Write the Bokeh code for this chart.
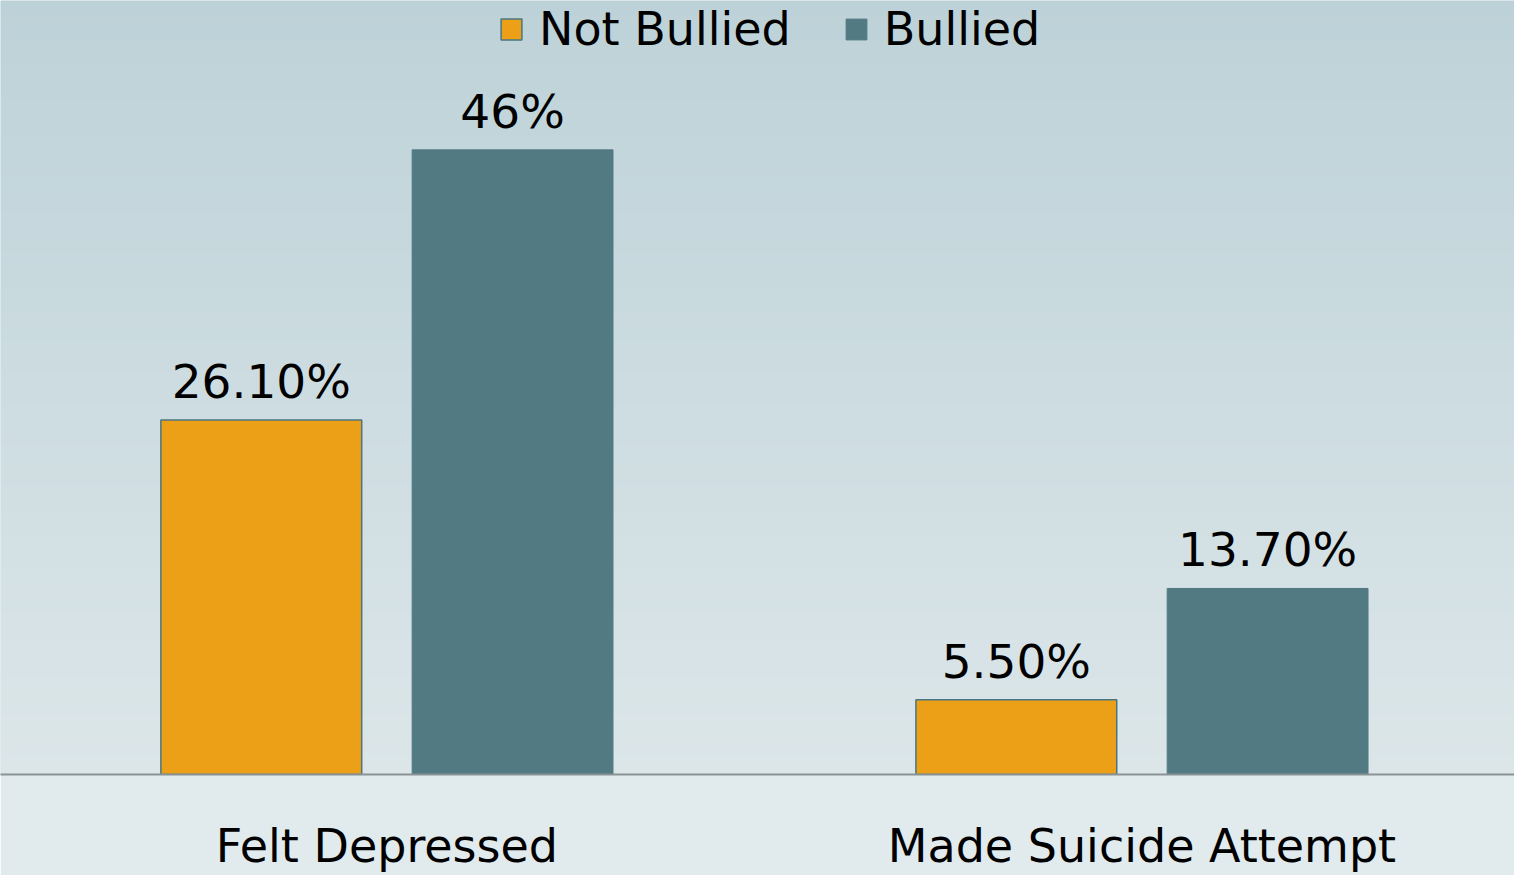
import numpy as np
from bokeh.plotting import figure
from bokeh.models import ColumnDataSource, Range1d, FixedTicker, LabelSet, Legend, LegendItem
from bokeh.core.properties import value
from bokeh.transform import dodge
from bokeh.embed import file_html
from bokeh.resources import INLINE

# ---- data ----
categories = ["Felt Depressed", "Made Suicide Attempt"]
series = ["Not Bullied", "Bullied"]
not_bullied = [26.1, 5.5]
bullied = [46.0, 13.7]
not_bullied_labels = ["26.10%", "5.50%"]
bullied_labels = ["46%", "13.70%"]

# ---- style ----
ORANGE = "#eba018"
TEAL = "#527a83"
EDGE = "#4a7683"
FONT = "DejaVu Sans"

idx = list(range(len(categories)))
src_nb = ColumnDataSource(dict(x=idx, y=not_bullied, t=not_bullied_labels))
src_b = ColumnDataSource(dict(x=idx, y=bullied, t=bullied_labels))

x0, x1 = -0.5118, 1.4934
y0, y1 = 0.0, 57.0

p = figure(width=1514, height=875, output_backend="svg", toolbar_location=None,
           x_range=Range1d(x0, x1), y_range=Range1d(y0, y1),
           min_border_left=0, min_border_right=0, min_border_top=0, min_border_bottom=0)

# background gradient inside the frame
N = 256
top = np.array([0xbd, 0xd2, 0xd8], dtype=float)
bot = np.array([0xdc, 0xe6, 0xe9], dtype=float)
img = np.zeros((N, 1), dtype=np.uint32)
view = img.view(dtype=np.uint8).reshape((N, 1, 4))
for i in range(N):
    f = i / (N - 1)
    c = bot * (1 - f) + top * f
    view[i, 0, 0:3] = np.round(c).astype(np.uint8)
    view[i, 0, 3] = 255
p.image_rgba(image=[img], x=x0, y=y0, dw=x1 - x0, dh=y1 - y0)

off = 0.1664
bw = 0.266
r1 = p.vbar(x=dodge("x", -off, range=p.x_range), top="y", width=bw, source=src_nb,
            fill_color=ORANGE, line_color=EDGE, line_width=1.5)
r2 = p.vbar(x=dodge("x", off, range=p.x_range), top="y", width=bw, source=src_b,
            fill_color=TEAL, line_color=TEAL, line_width=1)

for src, o in ((src_nb, -off), (src_b, off)):
    p.add_layout(LabelSet(x=dodge("x", o, range=p.x_range), y="y", text="t", source=src,
                          text_align="center", text_baseline="alphabetic", y_offset=22,
                          text_font=value(FONT), text_font_size=value("47px"),
                          text_color="black"))

legend = Legend(items=[LegendItem(label=series[0], renderers=[r1]),
                       LegendItem(label=series[1], renderers=[r2])],
                orientation="horizontal", location=(498, 718),
                label_text_font=FONT, label_text_font_size="46px", label_text_color="black",
                glyph_width=26, glyph_height=26, label_standoff=15, spacing=52,
                padding=0, margin=0, border_line_color=None, background_fill_alpha=0)
p.add_layout(legend)

p.xaxis.ticker = FixedTicker(ticks=idx)
p.xaxis.major_label_overrides = {i: c for i, c in zip(idx, categories)}
p.xaxis.major_label_text_font = FONT
p.xaxis.major_label_text_font_size = "46px"
p.xaxis.major_label_text_color = "black"
p.xaxis.major_label_standoff = 44
p.xaxis.major_tick_line_color = None
p.xaxis.major_tick_in = 0
p.xaxis.major_tick_out = 0
p.xaxis.minor_tick_line_color = None
p.xaxis.axis_line_color = "#8a9294"
p.xaxis.axis_line_width = 2
p.yaxis.visible = False
p.xgrid.visible = False
p.ygrid.visible = False
p.outline_line_color = None
p.border_fill_color = "#e1eaec"
p.background_fill_color = "#cddde1"

open("out.html", "w").write(file_html(p, INLINE))
